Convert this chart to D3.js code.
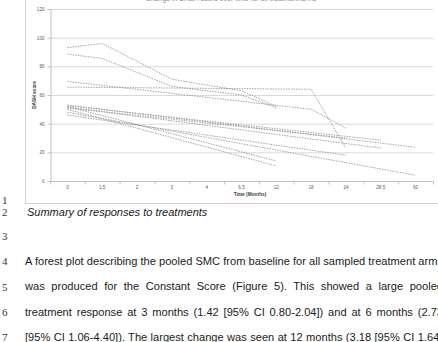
<!DOCTYPE html>
<html>
<head>
<meta charset="utf-8">
<script src="https://cdn.jsdelivr.net/npm/d3@7"></script>
<style>
  html, body { margin: 0; padding: 0; background: #fff; }
  svg { display: block; }
</style>
</head>
<body>
<svg id="page" width="438" height="342"></svg>
<script>
// categories on the time axis (months)
const categories = ['0', '1.5', '2', '3', '4', '6.5', '12', '18', '24', '28.5', '60']
const yTicks = [0, 20, 40, 60, 80, 100, 120]

// DASH score per treatment arm, null where the arm was not measured
const armA = [93, 96, null, 71, null, 63, 52, null, null, null, null]
const armB = [88.5, 85.5, null, 66, null, 60, 51, null, null, null, null]
const armC = [65.5, null, null, null, null, null, null, 64, 23, null, null]
const armD = [69.5, null, null, null, null, null, null, 50, 37, null, null]
const armE = [53, null, null, null, null, null, null, null, null, null, 23.5]
const armF = [52.5, null, null, null, null, null, null, null, null, 28.5, null]
const armG = [51.5, null, null, null, null, null, null, null, null, 23, null]
const armH = [51, null, null, null, null, null, null, null, 30, null, null]
const armI = [46, null, null, null, null, null, null, null, 18, null, null]
const armJ = [52, null, null, null, null, null, 14, null, null, null, null]
const armK = [50, null, null, null, null, null, 10.5, null, null, null, null]
const armL = [48, null, null, null, null, null, null, null, null, null, 4]
const arms = [armA, armB, armC, armD, armE, armF, armG, armH, armI, armJ, armK, armL]

const chartTitle = 'Change in DASH score over time for all treatment arms'
const xTitle = 'Time (Months)'
const yTitle = 'DASH score'

const caption = 'Summary of responses to treatments'
const bodyLines = [
  'A forest plot describing the pooled SMC from baseline for all sampled treatment arms',
  'was produced for the Constant Score (Figure 5). This showed a large pooled',
  'treatment response at 3 months (1.42 [95% CI 0.80-2.04]) and at 6 months (2.73',
  '[95% CI 1.06-4.40]). The largest change was seen at 12 months (3.18 [95% CI 1.64-'
]

const svg = d3.select('#page')
const sans = 'Liberation Sans, Arial, sans-serif'
const serif = 'Liberation Serif, Times New Roman, serif'

// chart frame (embedded figure)
const frame = svg.append('g')
frame.append('line').attr('x1', 25.5).attr('x2', 25.5).attr('y1', 0).attr('y2', 203.5)
  .attr('stroke', '#d4d4d4')
frame.append('line').attr('x1', 25.5).attr('x2', 438).attr('y1', 203.5).attr('y2', 203.5)
  .attr('stroke', '#e4c6ce')

const x = d3.scaleBand().domain(categories).range([50, 433]).paddingInner(0).paddingOuter(0)
const y = d3.scaleLinear().domain([0, 120]).range([181, 9])
const cx = c => x(c) + x.bandwidth() / 2

// gridlines
svg.append('g')
  .attr('transform', 'translate(50,0)')
  .call(d3.axisLeft(y).tickValues(yTicks.slice(1)).tickSize(-383).tickFormat(''))
  .call(g => g.select('.domain').remove())
  .call(g => g.selectAll('line').attr('stroke', '#d9d9d9').attr('stroke-width', 1))

// y axis
svg.append('g')
  .attr('transform', 'translate(50.5,0)')
  .call(d3.axisLeft(y).tickValues(yTicks).tickSize(3).tickPadding(3))
  .call(g => g.select('.domain').attr('stroke', '#bfbfbf'))
  .call(g => g.selectAll('line').attr('stroke', '#bfbfbf'))
  .call(g => g.selectAll('text').attr('fill', '#595959').attr('font-size', 4.6)
    .attr('font-family', sans))

// x axis: labels centred in bands, ticks between categories
const xAxis = svg.append('g').attr('transform', 'translate(0,181.5)')
xAxis.append('line').attr('x1', 50).attr('x2', 433).attr('stroke', '#bfbfbf')
xAxis.selectAll('line.tick')
  .data(categories.concat(['end']))
  .enter().append('line')
  .attr('class', 'tick')
  .attr('x1', (d, i) => 50.5 + i * x.bandwidth())
  .attr('x2', (d, i) => 50.5 + i * x.bandwidth())
  .attr('y1', 0).attr('y2', 3)
  .attr('stroke', '#bfbfbf')
xAxis.selectAll('text')
  .data(categories)
  .enter().append('text')
  .attr('x', d => cx(d))
  .attr('y', 7.5)
  .attr('text-anchor', 'middle')
  .attr('fill', '#595959')
  .attr('font-size', 4.6)
  .attr('font-family', sans)
  .text(d => d)

// axis titles
svg.append('text')
  .attr('x', 250).attr('y', 195.5)
  .attr('text-anchor', 'middle')
  .attr('font-size', 4.8).attr('font-weight', 'bold').attr('fill', '#404040')
  .attr('font-family', sans)
  .text(xTitle)
svg.append('text')
  .attr('transform', 'translate(35.5,95) rotate(-90)')
  .attr('text-anchor', 'middle')
  .attr('font-size', 4.8).attr('font-weight', 'bold').attr('fill', '#404040')
  .attr('font-family', sans)
  .text(yTitle)

// chart title, cut at the top edge of the page
svg.append('text')
  .attr('x', 231).attr('y', 1)
  .attr('text-anchor', 'middle')
  .attr('font-size', 7).attr('fill', '#8c8c8c')
  .attr('font-family', sans)
  .text(chartTitle)

// series
const line = d3.line().x(d => cx(d.cat)).y(d => y(d.value))
svg.append('g')
  .selectAll('path')
  .data(arms)
  .enter().append('path')
  .attr('d', arm => line(arm.map((v, i) => ({ cat: categories[i], value: v })).filter(d => d.value !== null)))
  .attr('fill', 'none')
  .attr('stroke', '#939393')
  .attr('stroke-width', 0.85)
  .attr('stroke-dasharray', '1.5,1.1')

// document text below the figure
const lineNumbers = [
  { n: '1', y: 204 },
  { n: '2', y: 216 },
  { n: '3', y: 240 },
  { n: '4', y: 265 },
  { n: '5', y: 290.5 },
  { n: '6', y: 315.5 },
  { n: '7', y: 340.5 }
]
svg.append('g').selectAll('text')
  .data(lineNumbers)
  .enter().append('text')
  .attr('x', 2).attr('y', d => d.y)
  .attr('font-size', 11).attr('fill', '#333')
  .attr('font-family', serif)
  .text(d => d.n)

svg.append('text')
  .attr('x', 27).attr('y', 216)
  .attr('font-size', 11).attr('font-style', 'italic').attr('fill', '#1a1a1a')
  .attr('font-family', sans)
  .text(caption)

// justified paragraph lines; font size set so the first (full) line fits naturally
const textStart = 25
const textEnd = 443
const body = svg.append('g')
  .attr('font-family', sans)
  .attr('fill', '#1a1a1a')
const probe = body.append('text').attr('font-size', 10).text(bodyLines[0])
const bodySize = 10 * (textEnd - textStart) / probe.node().getComputedTextLength()
probe.remove()

body.selectAll('text')
  .data(bodyLines)
  .enter().append('text')
  .attr('x', textStart)
  .attr('y', (d, i) => 265 + i * 25.25)
  .attr('font-size', bodySize)
  .text(d => d)
  .each(function (d) {
    const natural = this.getComputedTextLength()
    const spaces = d.split(' ').length - 1
    const extra = Math.max(0, (textEnd - textStart - natural) / spaces)
    d3.select(this).attr('word-spacing', extra)
  })
</script>
</body>
</html>
